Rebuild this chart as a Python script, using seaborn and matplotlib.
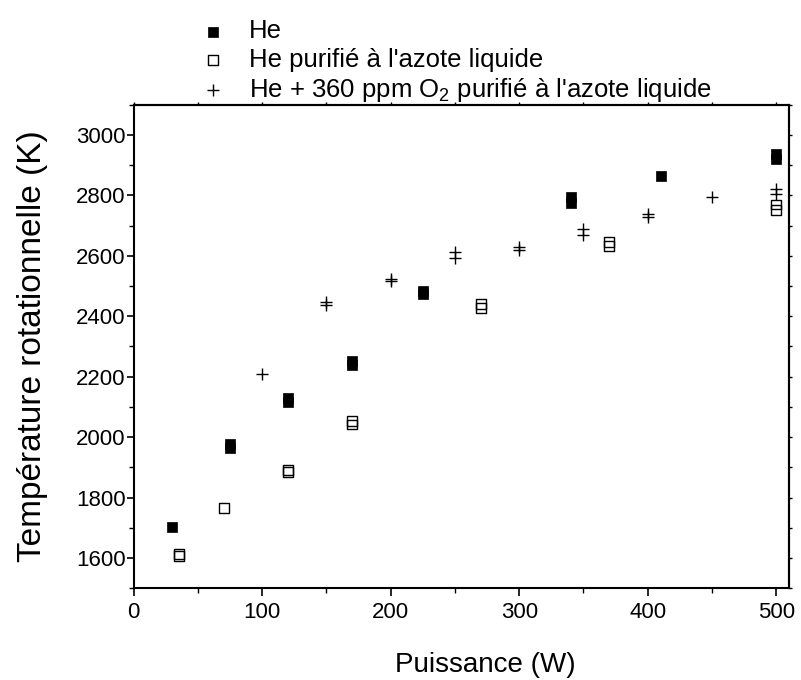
import matplotlib
matplotlib.use("Agg")
import matplotlib.pyplot as plt
import seaborn as sns
import pandas as pd
from matplotlib.ticker import MultipleLocator

sns.set_style("ticks")
plt.rcParams['font.family'] = ['Liberation Sans', 'DejaVu Sans']
plt.rcParams['mathtext.fontset'] = 'custom'
plt.rcParams['mathtext.rm'] = 'Liberation Sans'
plt.rcParams['mathtext.it'] = 'Liberation Sans:italic'
for k in ['text.color', 'axes.labelcolor', 'xtick.color', 'ytick.color', 'axes.edgecolor']:
    plt.rcParams[k] = 'black'

# He (filled squares)
he_x = [30, 75, 75, 120, 120, 170, 170, 225, 225, 340, 340, 410, 500, 500]
he_y = [1703, 1965, 1978, 2115, 2130, 2237, 2253, 2472, 2484, 2776, 2795, 2863, 2922, 2936]

# He purifié (open squares)
hp_x = [35, 35, 70, 120, 120, 170, 170, 270, 270, 370, 370, 500, 500]
hp_y = [1606, 1613, 1766, 1884, 1892, 2042, 2052, 2428, 2440, 2632, 2645, 2752, 2770]

# He + 360 ppm O2 purifié (plus)
ho_x = [100, 150, 150, 200, 200, 250, 250, 300, 300, 350, 350, 400, 400, 450, 500, 500]
ho_y = [2210, 2436, 2446, 2516, 2522, 2594, 2614, 2620, 2630, 2668, 2690, 2730, 2738, 2793, 2805, 2820]

labels = ["He", "He purifié à l'azote liquide", "He + 360 ppm O$_2$ purifié à l'azote liquide"]

df_he = pd.DataFrame({"P": he_x, "T": he_y})
df_hp = pd.DataFrame({"P": hp_x, "T": hp_y})
df_ho = pd.DataFrame({"P": ho_x, "T": ho_y})

fig = plt.figure(figsize=(8.01, 6.8), dpi=100)
ax = fig.add_axes([0.167, 0.135, 0.818, 0.711])

sns.scatterplot(data=df_he, x="P", y="T", ax=ax, marker="s", s=58,
                color="black", edgecolor="black", linewidth=0.5, label=labels[0])
sns.scatterplot(data=df_hp, x="P", y="T", ax=ax, marker="s", s=50,
                facecolor="none", edgecolor="black", linewidth=1.0, label=labels[1])
sns.scatterplot(data=df_ho, x="P", y="T", ax=ax, marker="+", s=80,
                color="black", linewidth=1.0, label=labels[2])

ax.set_xlim(0, 510)
ax.set_ylim(1500, 3100)
ax.xaxis.set_major_locator(MultipleLocator(100))
ax.xaxis.set_minor_locator(MultipleLocator(50))
ax.yaxis.set_major_locator(MultipleLocator(200))
ax.yaxis.set_minor_locator(MultipleLocator(100))
ax.set_yticks([1600, 1800, 2000, 2200, 2400, 2600, 2800, 3000])
ax.tick_params(axis='both', which='major', labelsize=16, direction='out', length=6, width=1.2,
               color='black', labelcolor='black')
ax.tick_params(axis='y', which='major', pad=1, length=5)
ax.tick_params(axis='x', which='major', pad=4)
ax.tick_params(axis='both', which='minor', direction='out', length=3.5, width=1.0, color='black')
for s in ax.spines.values():
    s.set_visible(True)
    s.set_linewidth(1.5)
    s.set_color('black')

# top and right ticks (short, no labels)
top = ax.secondary_xaxis('top')
top.xaxis.set_major_locator(MultipleLocator(50))
top.tick_params(direction='out', length=2.5, width=1.0, labeltop=False)
top.spines['top'].set_linewidth(1.5)
right = ax.secondary_yaxis('right')
right.yaxis.set_major_locator(MultipleLocator(100))
right.tick_params(direction='out', length=2.5, width=1.0, labelright=False)
right.spines['right'].set_linewidth(1.5)

ax.set_xlabel("Puissance (W)", fontsize=20, labelpad=21)
ax.xaxis.label.set_x(0.537)
ax.set_ylabel("Température rotationnelle (K)", fontsize=24, labelpad=20)

leg = ax.legend(loc='lower left', bbox_to_anchor=(0.066, 0.98), frameon=False,
                fontsize=18.5, handletextpad=0.4, labelspacing=0.17, markerscale=1.0,
                borderaxespad=0)

fig.savefig("out.png", dpi=100)
